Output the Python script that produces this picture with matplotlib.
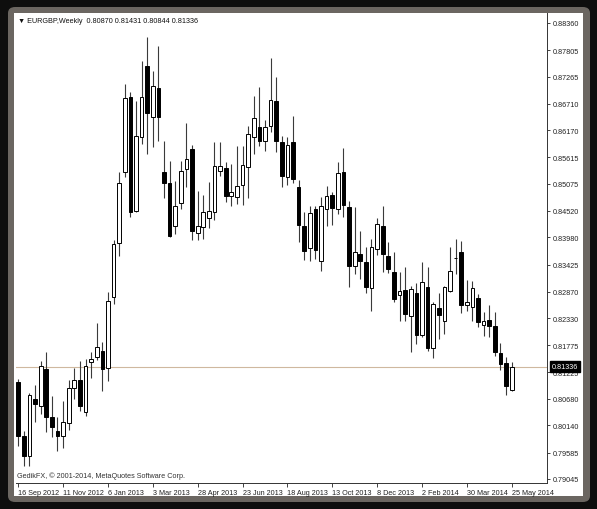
import numpy as np
import matplotlib.pyplot as plt
from matplotlib.patches import FancyBboxPatch, Rectangle

plt.rcParams['font.family'] = ['Liberation Sans', 'DejaVu Sans']
plt.rcParams['font.size'] = 5.2

# ====================
# data: EURGBP weekly, 16 Sep 2012 .. 25 May 2014
# ====================
opens = [0.81025, 0.79922, 0.79513, 0.80678, 0.80535, 0.81291, 0.80310, 0.80024, 0.79922, 0.80188,
         0.80903, 0.81066, 0.80412, 0.81434, 0.81536, 0.81659, 0.81311, 0.82762, 0.83865, 0.85316,
         0.86848, 0.84519, 0.86031, 0.87481, 0.86439, 0.87032, 0.85316, 0.85091, 0.84212, 0.84682,
         0.85377, 0.85785, 0.84069, 0.84192, 0.84376, 0.84498, 0.85336, 0.85397, 0.84825, 0.84805,
         0.85050, 0.85418, 0.86031, 0.86235, 0.85949, 0.86255, 0.86766, 0.85929, 0.85213, 0.85929,
         0.85009, 0.84212, 0.83763, 0.84560, 0.83497, 0.84560, 0.84846, 0.84560, 0.85316, 0.84601,
         0.83395, 0.83640, 0.83477, 0.82946, 0.83742, 0.84212, 0.83599, 0.83273, 0.82803, 0.82905,
         0.82374, 0.82844, 0.81986, 0.82966, 0.81720, 0.82537, 0.82272, 0.82884, 0.83559, 0.83681,
         0.82598, 0.82558, 0.82741, 0.82190, 0.82292, 0.82169, 0.81618, 0.81413, 0.80870]
highs = [0.81087, 0.80024, 0.80801, 0.80964, 0.81454, 0.81638, 0.80739, 0.80310, 0.80637, 0.81066,
         0.81311, 0.81454, 0.81495, 0.81638, 0.82231, 0.81843, 0.82864, 0.83926, 0.85316, 0.87113,
         0.86950, 0.86766, 0.87583, 0.88074, 0.87379, 0.87890, 0.85949, 0.85540, 0.85132, 0.85540,
         0.86317, 0.85867, 0.84927, 0.84846, 0.85111, 0.85929, 0.85929, 0.85520, 0.85479, 0.85847,
         0.85847, 0.86255, 0.86868, 0.87052, 0.86378, 0.87645, 0.87256, 0.86051, 0.86031, 0.86460,
         0.85152, 0.84498, 0.84621, 0.84621, 0.84805, 0.85030, 0.84907, 0.85520, 0.85806, 0.84723,
         0.84601, 0.84110, 0.83783, 0.83947, 0.84376, 0.84621, 0.83886, 0.83681, 0.83273, 0.83375,
         0.82987, 0.83048, 0.83477, 0.83375, 0.82660, 0.82844, 0.82987, 0.83783, 0.83947, 0.83906,
         0.83109, 0.83089, 0.82823, 0.82455, 0.82598, 0.82455, 0.81822, 0.81536, 0.81431]
lows = [0.79718, 0.79309, 0.79309, 0.80208, 0.80372, 0.80004, 0.79902, 0.79616, 0.79677, 0.80045,
        0.80678, 0.80433, 0.80331, 0.81107, 0.81475, 0.80841, 0.81046, 0.82619, 0.83599, 0.85213,
        0.84396, 0.84498, 0.85888, 0.85683, 0.85826, 0.85949, 0.84784, 0.83988, 0.84049, 0.84560,
        0.85009, 0.83926, 0.83926, 0.83947, 0.84172, 0.84335, 0.85234, 0.84703, 0.84621, 0.84662,
        0.84641, 0.84784, 0.85683, 0.85847, 0.85745, 0.86133, 0.85724, 0.85009, 0.85050, 0.85091,
        0.83886, 0.83518, 0.83497, 0.83538, 0.83293, 0.84212, 0.84233, 0.84458, 0.84396, 0.82966,
        0.83232, 0.83130, 0.82844, 0.82476, 0.83620, 0.83273, 0.83252, 0.82660, 0.82272, 0.82272,
        0.81638, 0.81802, 0.81945, 0.81659, 0.81516, 0.81904, 0.82006, 0.82864, 0.83232, 0.82435,
        0.82476, 0.82272, 0.82149, 0.81965, 0.81945, 0.81556, 0.81270, 0.80760, 0.80844]
closes = [0.79922, 0.79513, 0.80760, 0.80576, 0.81352, 0.80310, 0.80106, 0.79922, 0.80208, 0.80903,
          0.81066, 0.80535, 0.81352, 0.81495, 0.81740, 0.81291, 0.82680, 0.83845, 0.85091, 0.86827,
          0.84498, 0.86051, 0.86848, 0.86521, 0.87073, 0.86439, 0.85091, 0.84008, 0.84621, 0.85336,
          0.85581, 0.84110, 0.84212, 0.84498, 0.84519, 0.85438, 0.85438, 0.84825, 0.84907, 0.85030,
          0.85459, 0.86092, 0.86419, 0.85949, 0.86235, 0.86787, 0.85949, 0.85234, 0.85867, 0.85173,
          0.84233, 0.83702, 0.84478, 0.83722, 0.84621, 0.84825, 0.84580, 0.85295, 0.84641, 0.83395,
          0.83681, 0.83497, 0.82966, 0.83783, 0.84253, 0.83640, 0.83334, 0.82721, 0.82884, 0.82415,
          0.82925, 0.81986, 0.83068, 0.81720, 0.82619, 0.82394, 0.82966, 0.83293, 0.83559, 0.82598,
          0.82660, 0.82946, 0.82251, 0.82272, 0.82169, 0.81638, 0.81393, 0.80944, 0.81336]

date_labels = ['16 Sep 2012', '11 Nov 2012', '6 Jan 2013', '3 Mar 2013', '28 Apr 2013', '23 Jun 2013',
               '18 Aug 2013', '13 Oct 2013', '8 Dec 2013', '2 Feb 2014', '30 Mar 2014', '25 May 2014']
price_ticks = [0.88360, 0.87805, 0.87265, 0.86710, 0.86170, 0.85615, 0.85075, 0.84520, 0.83980,
               0.83425, 0.82870, 0.82330, 0.81775, 0.81225, 0.80680, 0.80140, 0.79585, 0.79045]

# ====================
# figure + terminal window frame
# ====================
W, H = 597, 510
fig = plt.figure(figsize=(W / 100, H / 100), dpi=100, facecolor='#0e0e0e')
fig.patches.append(FancyBboxPatch((8 / W, 1 - 503 / H), 582 / W, 495 / H,
                                  boxstyle='round,pad=0,rounding_size=0.012',
                                  transform=fig.transFigure, facecolor='#6b6661',
                                  edgecolor='none', zorder=-10))
fig.patches.append(Rectangle((14 / W, 1 - 497 / H), 569 / W, 483 / H,
                             transform=fig.transFigure, facecolor='white',
                             edgecolor='none', zorder=-9))

ax = fig.add_axes([16 / W, 1 - 484 / H, 531 / W, 470 / H])
ax.set_facecolor('white')

# ====================
# candles
# ====================
o = np.array(opens)
h = np.array(highs)
l = np.array(lows)
c = np.array(closes)
x = np.arange(len(o))
up = c >= o

ax.vlines(x, l, h, color='#3a3a3a', linewidth=0.8, zorder=1)
body_lo = np.minimum(o, c)
body_h = np.maximum(np.abs(c - o), 0.00004)
ax.bar(x[up], body_h[up], bottom=body_lo[up], width=0.66, color='white',
       edgecolor='black', linewidth=0.7, zorder=2)
ax.bar(x[~up], body_h[~up], bottom=body_lo[~up], width=0.66, color='black',
       edgecolor='black', linewidth=0.7, zorder=2)

# bid line
ax.axhline(closes[-1], color='#cfb89f', linewidth=0.8, zorder=0.5)

# ====================
# axes styling
# ====================
ax.set_xlim(-0.4, 94.3)
ax.set_ylim(0.78962, 0.88564)

ax.set_xticks(np.arange(0, len(o), 8))
ax.set_xticklabels(date_labels, ha='left')
ax.yaxis.tick_right()
ax.set_yticks(price_ticks)
ax.set_yticklabels([f'{v:.5f}' for v in price_ticks])
ax.tick_params(axis='x', length=3, width=0.6, pad=1.5, colors='#222222')
ax.tick_params(axis='y', length=2.5, width=0.6, pad=1.5, colors='#222222')

for side in ['top', 'left']:
    ax.spines[side].set_visible(False)
for side in ['right', 'bottom']:
    ax.spines[side].set_linewidth(0.7)
    ax.spines[side].set_color('#333333')

ax.annotate(f'{closes[-1]:.5f}', xy=(1, closes[-1]), xycoords=ax.get_yaxis_transform(),
            xytext=(3.2, 0), textcoords='offset points', ha='left', va='center',
            color='white', fontsize=5.2, annotation_clip=False, zorder=5,
            bbox=dict(boxstyle='square,pad=0.25', facecolor='black', edgecolor='black'))

ax.text(0.004, 0.983, '▼ EURGBP,Weekly  0.80870 0.81431 0.80844 0.81336',
        transform=ax.transAxes, ha='left', va='center', color='#111111')
ax.text(0.002, 0.016, 'GedikFX, © 2001-2014, MetaQuotes Software Corp.',
        transform=ax.transAxes, ha='left', va='center', color='#333333')

fig.savefig('out.png', dpi=100, facecolor=fig.get_facecolor())
